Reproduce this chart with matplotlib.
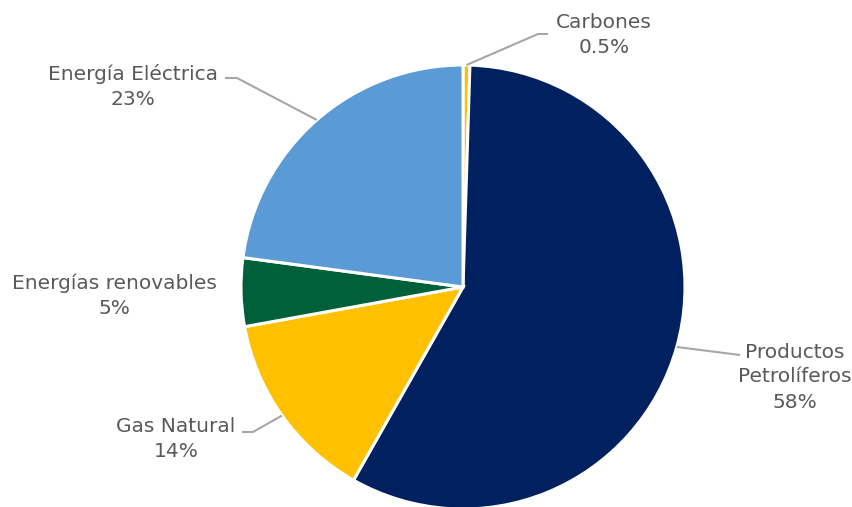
import numpy as np
import matplotlib.pyplot as plt

# Consumo de energía final por fuente (%)
fuentes = ["Carbones", "Productos\nPetrolíferos", "Gas Natural",
           "Energías renovables", "Energía Eléctrica"]
valores = [0.5, 58, 14, 5, 23]
etiquetas = ["0.5%", "58%", "14%", "5%", "23%"]
colores = ["#FFC000", "#002060", "#FFC000", "#00603A", "#5B9BD5"]

W, H = 853, 507
fig = plt.figure(figsize=(W / 100, H / 100), dpi=100)
ax = fig.add_axes([0, 0, 1, 1])

cx, cy, r = 463, H - 287, 222
wedges, _ = ax.pie(valores, colors=colores, startangle=90, counterclock=False,
                   center=(cx, cy), radius=r, frame=True,
                   wedgeprops=dict(edgecolor="white", linewidth=2.2))
ax.set_xlim(0, W)
ax.set_ylim(0, H)
ax.set_aspect("equal")
ax.axis("off")

# posición del texto y codo de la línea guía (en px desde arriba)
texto_pos = [(604, 35), (795, 377), (176, 439), (114, 296), (133, 86)]
codos = [[(538, 34), (548, 34)],
         [(740, 355)],
         [(253, 432), (242, 432)],
         None,
         [(237, 78), (225, 78)]]

tcolor = "#595959"
for w, nombre, et, (tx, ty), codo in zip(wedges, fuentes, etiquetas, texto_pos, codos):
    ax.text(tx, H - ty, f"{nombre}\n{et}", ha="center", va="center",
            fontsize=14.5, color=tcolor, family=["DejaVu Sans"],
            linespacing=1.4)
    if codo is None:
        continue
    ang = np.deg2rad((w.theta1 + w.theta2) / 2)
    xs = [cx + r * np.cos(ang)] + [p[0] for p in codo]
    ys = [cy + r * np.sin(ang)] + [H - p[1] for p in codo]
    ax.plot(xs, ys, color="#A6A6A6", linewidth=1.5, solid_capstyle="butt")

fig.savefig("out.png", dpi=100, facecolor="white")
